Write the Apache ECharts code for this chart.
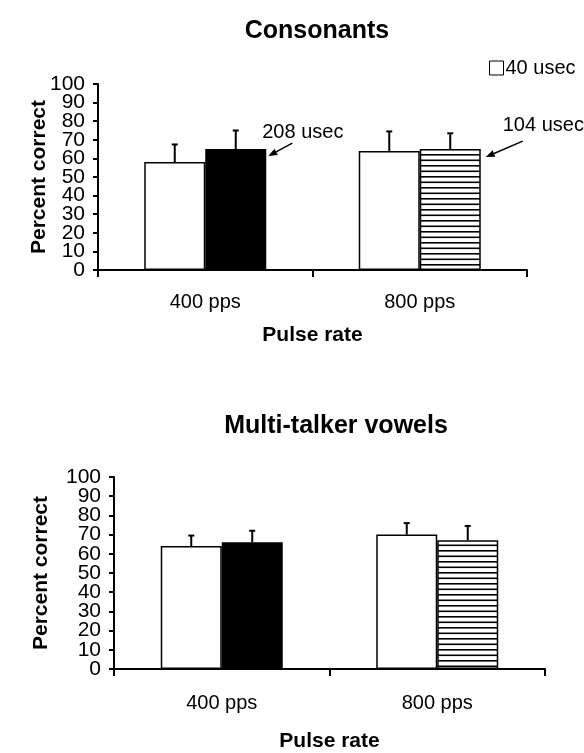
<!DOCTYPE html>
<html>
<head>
<meta charset="utf-8">
<script src="https://cdn.jsdelivr.net/npm/echarts@6/dist/echarts.min.js"></script>
<style>
  html, body { margin: 0; padding: 0; background: #fff; }
  #chart { width: 584px; height: 753px; }
</style>
</head>
<body>
<div id="chart"></div>
<script>
// ---- data ----
const categories = ['400 pps', '800 pps'];
const shortLabel = '40 usec';
const longLabels = ['208 usec', '104 usec'];
const yTicks = [0, 10, 20, 30, 40, 50, 60, 70, 80, 90, 100];

const consonantsShort = [58, 64];
const consonantsShortErr = [9.5, 10.5];
const consonantsLong = [65, 65];
const consonantsLongErr = [10, 8.5];

const vowelsShort = [64, 70];
const vowelsShortErr = [5.5, 6];
const vowelsLong = [66, 67];
const vowelsLongErr = [6, 7.5];

// ---- styling ----
const FONT = 'Liberation Sans, Arial, sans-serif';
const BAR_W = 61;
const CAP = 3;
const Y_LABEL_MARGIN = 13;

// horizontal-line hatch used for the 104 usec bar
function hatchPattern() {
  const c = document.createElement('canvas');
  c.width = 4; c.height = 11;
  const g = c.getContext('2d');
  g.fillStyle = '#fff'; g.fillRect(0, 0, 4, 11);
  g.fillStyle = '#000';
  g.fillRect(0, 0, 4, 1.6);
  g.fillRect(0, 5.5, 4, 1.6);
  return { image: c, repeat: 'repeat' };
}
const HATCH = hatchPattern();

// arrow callouts relative to the long-pulse bar's top-right corner
const CALLOUT = [
  { text: [-4, -17], tip: [2, 7], tail: [26, -6] },
  { text: [22, -24], tip: [5, 8], tail: [42, -8] }
];

const shortStyle = { color: '#fff', borderColor: '#000', borderWidth: 1.5 };
const longStyles = [
  { color: '#000', borderColor: '#000', borderWidth: 1.5 },
  { color: HATCH, borderColor: '#000', borderWidth: 1.5 }
];

function xAxisCfg(gridIndex, labelMargin, nameGap) {
  return {
    type: 'category', gridIndex, data: categories,
    name: 'Pulse rate', nameLocation: 'middle', nameGap,
    nameTextStyle: { fontFamily: FONT, fontWeight: 'bold', fontSize: 21, color: '#000' },
    axisLine: { show: true, lineStyle: { color: '#000', width: 2 } },
    axisTick: { show: true, length: 7, lineStyle: { color: '#000', width: 2 } },
    axisLabel: { fontFamily: FONT, fontSize: 20, color: '#000', margin: labelMargin },
    splitLine: { show: false }
  };
}

function yAxisCfg(gridIndex, nameGap) {
  return {
    type: 'value', gridIndex,
    min: yTicks[0], max: yTicks[yTicks.length - 1], interval: yTicks[1] - yTicks[0],
    name: 'Percent correct', nameLocation: 'middle', nameGap,
    nameTextStyle: { fontFamily: FONT, fontWeight: 'bold', fontSize: 21, color: '#000' },
    axisLine: { show: true, lineStyle: { color: '#000', width: 2 } },
    axisTick: { show: true, length: 5, lineStyle: { color: '#000', width: 2 } },
    axisLabel: { show: false },
    splitLine: { show: false }
  };
}

// tightly stacked tick labels along the value axis, placed through the axis scale
function yTickLabelSeries(axisIndex) {
  return {
    type: 'custom', xAxisIndex: axisIndex, yAxisIndex: axisIndex, z: 4,
    encode: { x: 0, y: 1 }, silent: true, clip: false,
    data: yTicks.map(v => [0, v]),
    renderItem: function (params, api) {
      const p = api.coord([0, api.value(1)]);
      return {
        type: 'text', x: params.coordSys.x - Y_LABEL_MARGIN, y: p[1],
        style: { text: String(api.value(1)), fontFamily: FONT, fontSize: 21, fill: '#000',
                 align: 'right', verticalAlign: 'middle' }
      };
    }
  };
}

function barSeries(axisIndex, shortVals, longVals) {
  return [
    {
      name: shortLabel, type: 'bar', xAxisIndex: axisIndex, yAxisIndex: axisIndex,
      barWidth: BAR_W, barGap: '0%', itemStyle: shortStyle,
      data: shortVals
    },
    {
      name: 'long pulse', type: 'bar', xAxisIndex: axisIndex, yAxisIndex: axisIndex,
      barWidth: BAR_W, barGap: '0%',
      data: longVals.map((v, i) => ({ value: v, itemStyle: longStyles[i] }))
    }
  ];
}

// one-sided (upper) error bars centred on each bar
function errorSeries(axisIndex, shortVals, shortErr, longVals, longErr) {
  const rows = [];
  shortVals.forEach((v, i) => rows.push([i, v, shortErr[i], -1]));
  longVals.forEach((v, i) => rows.push([i, v, longErr[i], 1]));
  return {
    type: 'custom', xAxisIndex: axisIndex, yAxisIndex: axisIndex, z: 5,
    encode: { x: 0, y: 1 }, silent: true,
    data: rows,
    renderItem: function (params, api) {
      const i = api.value(0), v = api.value(1), e = api.value(2), side = api.value(3);
      const base = api.coord([i, v]);
      const top = api.coord([i, v + e]);
      const x = base[0] + side * BAR_W / 2;
      const st = { stroke: '#000', lineWidth: 2 };
      return {
        type: 'group',
        children: [
          { type: 'line', shape: { x1: x, y1: base[1], x2: x, y2: top[1] }, style: st },
          { type: 'line', shape: { x1: x - CAP, y1: top[1], x2: x + CAP, y2: top[1] }, style: st }
        ]
      };
    }
  };
}

// pulse-duration callouts pointing at the long-pulse bars
function calloutSeries(axisIndex, longVals) {
  return {
    type: 'custom', xAxisIndex: axisIndex, yAxisIndex: axisIndex, z: 6,
    encode: { x: 0, y: 1 }, silent: true, clip: false,
    data: longVals.map((v, i) => [i, v, i]),
    renderItem: function (params, api) {
      const i = api.value(0), v = api.value(1), k = api.value(2);
      const c = CALLOUT[k];
      const p = api.coord([i, v]);
      const rx = p[0] + BAR_W, ry = p[1];
      const tip = [rx + c.tip[0], ry + c.tip[1]];
      const tail = [rx + c.tail[0], ry + c.tail[1]];
      const dx = tip[0] - tail[0], dy = tip[1] - tail[1];
      const len = Math.sqrt(dx * dx + dy * dy);
      const ux = dx / len, uy = dy / len;
      const hl = 9, hw = 3.5;
      const bx = tip[0] - ux * hl, by = tip[1] - uy * hl;
      return {
        type: 'group',
        children: [
          { type: 'line', shape: { x1: tail[0], y1: tail[1], x2: bx, y2: by },
            style: { stroke: '#000', lineWidth: 1.5 } },
          { type: 'polygon', shape: { points: [tip, [bx - uy * hw, by + ux * hw], [bx + uy * hw, by - ux * hw]] },
            style: { fill: '#000' } },
          { type: 'text', x: rx + c.text[0], y: ry + c.text[1],
            style: { text: longLabels[k], fontFamily: FONT, fontSize: 20, fill: '#000',
                     align: 'left', verticalAlign: 'middle' } }
        ]
      };
    }
  };
}

const chart = echarts.init(document.getElementById('chart'), null, { renderer: 'canvas' });
chart.setOption({
  animation: false,
  backgroundColor: '#fff',
  title: [
    { text: 'Consonants', left: 312, top: 14, textAlign: 'center',
      textStyle: { fontFamily: FONT, fontWeight: 'bold', fontSize: 25, color: '#000' } },
    { text: 'Multi-talker vowels', left: 331, top: 409, textAlign: 'center',
      textStyle: { fontFamily: FONT, fontWeight: 'bold', fontSize: 25, color: '#000' } }
  ],
  legend: {
    data: [{ name: shortLabel, icon: 'rect' }],
    left: 489, top: 58, padding: 0,
    itemWidth: 14, itemHeight: 14,
    itemStyle: { color: '#fff', borderColor: '#000', borderWidth: 1 },
    textStyle: { fontFamily: FONT, fontSize: 20, color: '#000', padding: [0, 0, 0, -3] }
  },
  grid: [
    { left: 98, right: 57, top: 84, bottom: 483 },
    { left: 114, right: 39, top: 477, bottom: 80 }
  ],
  xAxis: [xAxisCfg(0, 22, 55), xAxisCfg(1, 24, 62)],
  yAxis: [yAxisCfg(0, 48), yAxisCfg(1, 62)],
  series: [
    ...barSeries(0, consonantsShort, consonantsLong),
    ...barSeries(1, vowelsShort, vowelsLong),
    errorSeries(0, consonantsShort, consonantsShortErr, consonantsLong, consonantsLongErr),
    errorSeries(1, vowelsShort, vowelsShortErr, vowelsLong, vowelsLongErr),
    calloutSeries(0, consonantsLong),
    yTickLabelSeries(0),
    yTickLabelSeries(1)
  ]
});
</script>
</body>
</html>
